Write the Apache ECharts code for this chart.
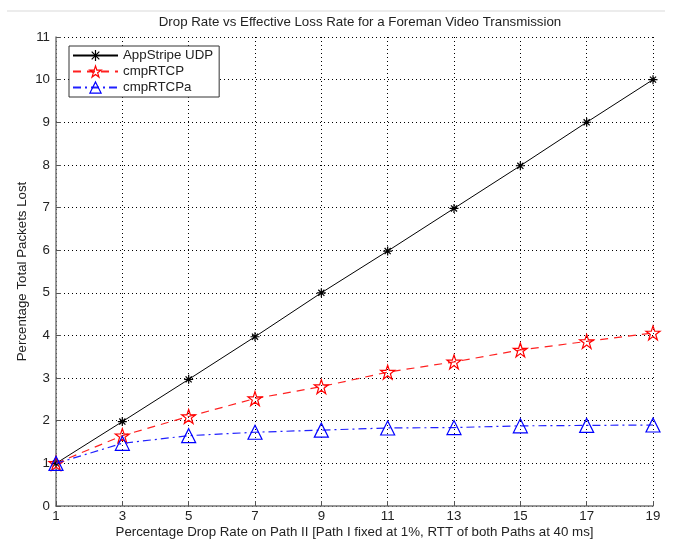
<!DOCTYPE html>
<html><head><meta charset="utf-8">
<script src="https://cdn.jsdelivr.net/npm/echarts@6/dist/echarts.min.js"></script>
<style>html,body{margin:0;padding:0;background:#fff}#c{width:673px;height:540px}</style>
</head><body><div id="c"></div>
<script>
const dropRates = [1, 3, 5, 7, 9, 11, 13, 15, 17, 19];
const appStripeUDP = [1.0, 1.98, 2.97, 3.97, 5.0, 5.98, 6.98, 7.98, 9.0, 10.0];
const cmpRTCP = [1.0, 1.65, 2.1, 2.52, 2.8, 3.14, 3.38, 3.66, 3.86, 4.06];
const cmpRTCPa = [1.0, 1.47, 1.65, 1.73, 1.78, 1.83, 1.84, 1.88, 1.89, 1.9];
const seriesNames = ['AppStripe UDP', 'cmpRTCP', 'cmpRTCPa'];

const pair = arr => dropRates.map((x, i) => [x, arr[i]]);
const asterisk = 'path://M5 0L5 10M0 5L10 5M1.6 1.6L8.4 8.4M8.4 1.6L1.6 8.4';
const star = 'path://M50 0L61.8 35.3L99 35.3L68.9 57.2L80.4 92.7L50 70.8L19.6 92.7L31.1 57.2L1 35.3L38.2 35.3Z';
const font = 'Liberation Sans';
const fs = 13.3;
const hollow = 'rgba(255,255,255,0)';

const chart = echarts.init(document.getElementById('c'));
chart.setOption({
  animation: false,
  textStyle: {fontFamily: font},
  title: {text: 'Drop Rate vs Effective Loss Rate for a Foreman Video Transmission', left: 355, top: 11, textAlign: 'center',
    textStyle: {fontSize: fs, fontWeight: 'normal', color: '#222', fontFamily: font}},
  graphic: [{type: 'line', shape: {x1: 7, y1: 11, x2: 665, y2: 11}, style: {stroke: '#ececec', lineWidth: 2}, silent: true}],
  grid: {left: 56, right: 20, top: 37, bottom: 34, containLabel: false, outerBoundsMode: 'none'},
  legend: {
    left: 69, top: 46, orient: 'vertical', backgroundColor: '#fff', borderColor: '#333', borderWidth: 1,
    padding: [3, 6, 3, 3], itemGap: 3, itemWidth: 45, itemHeight: 14,
    textStyle: {fontSize: fs, color: '#222', fontFamily: font},
    data: [
      {name: seriesNames[0], itemStyle: {color: hollow, borderColor: '#000', borderWidth: 1.2}},
      {name: seriesNames[1], itemStyle: {color: hollow, borderColor: '#ff0000', borderWidth: 1.2}},
      {name: seriesNames[2], itemStyle: {color: hollow, borderColor: '#0000ff', borderWidth: 1.2}}
    ]
  },
  xAxis: {
    type: 'value', min: 1, max: 19, interval: 2,
    name: 'Percentage Drop Rate on Path II [Path I fixed at 1%, RTT of both Paths at 40 ms]',
    nameLocation: 'middle', nameGap: 20, nameMoveOverlap: false, nameTextStyle: {fontSize: fs, color: '#222'},
    axisLine: {lineStyle: {color: '#777', width: 1.5}},
    axisTick: {inside: true, length: 5, lineStyle: {color: '#555'}},
    axisLabel: {fontSize: fs, color: '#222', margin: 4},
    splitLine: {show: true, lineStyle: {color: '#000', type: [1, 3], width: 1}}
  },
  yAxis: {
    type: 'value', min: 0, max: 11, interval: 1,
    name: 'Percentage Total Packets Lost', nameLocation: 'middle', nameGap: 27, nameMoveOverlap: false,
    nameTextStyle: {fontSize: fs, color: '#222'},
    axisLine: {show: true, lineStyle: {color: '#777', width: 1.5}},
    axisTick: {show: true, inside: true, length: 5, lineStyle: {color: '#555'}},
    axisLabel: {fontSize: fs, color: '#222', margin: 6},
    splitLine: {show: true, lineStyle: {color: '#000', type: [1, 3], width: 1}}
  },
  series: [
    {name: seriesNames[0], type: 'line', data: pair(appStripeUDP), symbol: asterisk, symbolSize: 9,
      itemStyle: {color: '#000', borderColor: '#000', borderWidth: 1.2},
      lineStyle: {color: '#000', width: 1}, z: 3},
    {name: seriesNames[1], type: 'line', data: pair(cmpRTCP), symbol: star, symbolSize: 14,
      itemStyle: {color: hollow, borderColor: '#ff0000', borderWidth: 1.2},
      lineStyle: {color: '#ff2020', width: 1.2, type: [8, 6]}, z: 4},
    {name: seriesNames[2], type: 'line', data: pair(cmpRTCPa), symbol: 'triangle', symbolSize: 14,
      itemStyle: {color: hollow, borderColor: '#0000ff', borderWidth: 1.2},
      lineStyle: {color: '#2020ff', width: 1.2, type: [8, 4, 2, 4]}, z: 5}
  ]
});
</script></body></html>
